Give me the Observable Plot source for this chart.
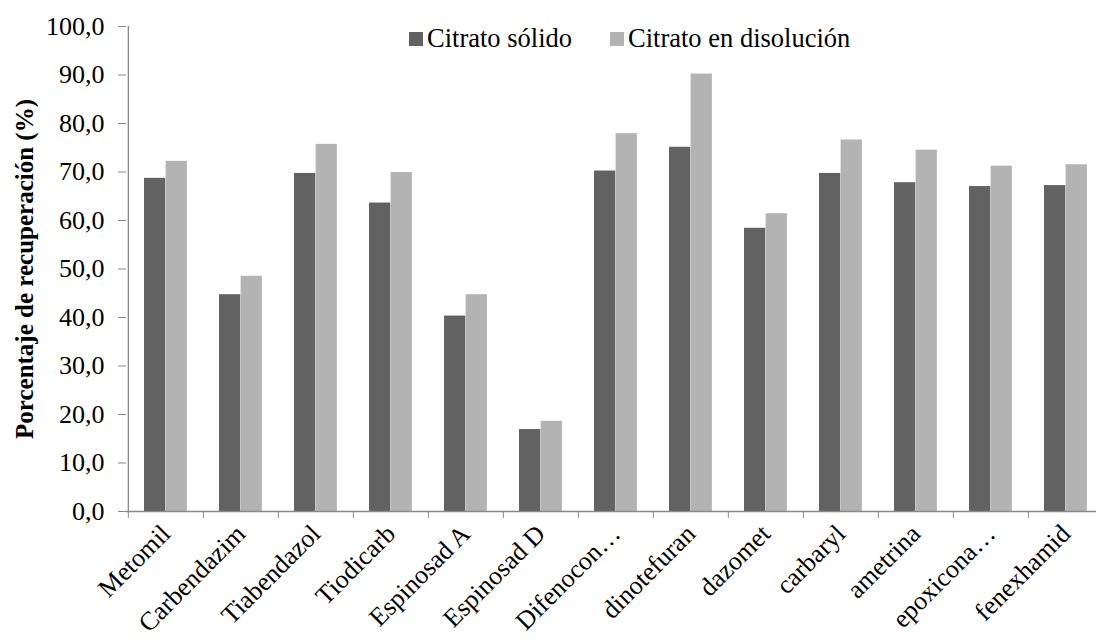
<!DOCTYPE html>
<html>
<head>
<meta charset="utf-8">
<script src="https://cdn.jsdelivr.net/npm/d3@7"></script>
<script src="https://cdn.jsdelivr.net/npm/@observablehq/plot@0.6"></script>
<style>
  html, body { margin: 0; padding: 0; background: #fff; overflow: hidden; }
  #wrap { position: relative; width: 1096px; height: 640px; }
  #legend { position: absolute; top: 23px; left: 409px; display: flex; align-items: center;
            font-family: "Liberation Serif", "Times New Roman", serif; font-size: 26.5px; color: #000; }
  .item { display: flex; align-items: center; }
  .sw { width: 14px; height: 14px; margin-right: 4px; }
  svg text { font-family: "Liberation Serif", "Times New Roman", serif; }
</style>
</head>
<body>
<div id="wrap"><div id="legend"></div></div>
<script>
const categories = ["Metomil","Carbendazim","Tiabendazol","Tiodicarb","Espinosad A","Espinosad D","Difenocon…","dinotefuran","dazomet","carbaryl","ametrina","epoxicona…","fenexhamid"];
const solido     = [68.7, 44.7, 69.7, 63.6, 40.3, 16.9, 70.2, 75.1, 58.4, 69.7, 67.8, 67.0, 67.2];
const disolucion = [72.2, 48.5, 75.7, 69.9, 44.7, 18.6, 77.9, 90.2, 61.4, 76.6, 74.5, 71.2, 71.5];
const seriesNames = ["Citrato sólido", "Citrato en disolución"];
const seriesColors = ["#626262", "#b3b3b3"];
const yTicks = [0, 10, 20, 30, 40, 50, 60, 70, 80, 90, 100];
const yTitle = "Porcentaje de recuperación (%)";

const rows = [];
categories.forEach((c, i) => {
  rows.push({cat: c, serie: seriesNames[0], value: solido[i]});
  rows.push({cat: c, serie: seriesNames[1], value: disolucion[i]});
});

const xRange = [126, 1105];
const bw = (xRange[1] - xRange[0]) / categories.length;
const barW = 21.6, gap = 16;

const fmt = d => d.toFixed(1).replace(".", ",");
const font = "Liberation Serif, Times New Roman, serif";

const chart = Plot.plot({
  width: 1096, height: 640,
  marginLeft: 126, marginRight: 0, marginTop: 26, marginBottom: 129,
  style: {fontFamily: font, fontSize: "24px", color: "#000", background: "#fff", overflow: "visible"},
  x: {domain: categories, range: xRange, padding: 0, label: null},
  y: {domain: [0, 100], label: null},
  marks: [
    Plot.barY(rows.filter(d => d.serie === seriesNames[0]), {x: "cat", y: "value", fill: seriesColors[0], insetLeft: gap, insetRight: bw - gap - barW}),
    Plot.barY(rows.filter(d => d.serie === seriesNames[1]), {x: "cat", y: "value", fill: seriesColors[1], insetLeft: gap + barW, insetRight: bw - gap - 2 * barW}),
    Plot.ruleY([0], {stroke: "#898989", strokeWidth: 1.3}),
    Plot.ruleX([categories[0]], {x: d => d, dx: -bw / 2, y1: 0, y2: 100, stroke: "#898989", strokeWidth: 1.3}),
    Plot.axisY({ticks: yTicks, tickSize: 8, tickPadding: 14, tickFormat: fmt, stroke: "#898989", fontSize: 26, fontFamily: font, fontVariant: "normal", label: null}),
    Plot.axisX({tickSize: 7, dx: -bw / 2, text: null, stroke: "#898989", label: null}),
    Plot.axisX({tickSize: 0, tickPadding: 18, tickRotate: -45, fontSize: 26, fontFamily: font, label: null}),
    Plot.text([yTitle], {frameAnchor: "left", textAnchor: "middle", rotate: -90, dx: -102, fontWeight: "bold", fontSize: 25, fontFamily: font, fill: "#000"})
  ]
});
document.getElementById("wrap").prepend(chart);

const legend = document.getElementById("legend");
seriesNames.forEach((n, i) => {
  const it = document.createElement("div");
  it.className = "item";
  if (i > 0) it.style.marginLeft = "38px";
  const sw = document.createElement("span");
  sw.className = "sw";
  sw.style.background = seriesColors[i];
  const t = document.createElement("span");
  t.textContent = n;
  it.append(sw, t);
  legend.append(it);
});
</script>
</body>
</html>
